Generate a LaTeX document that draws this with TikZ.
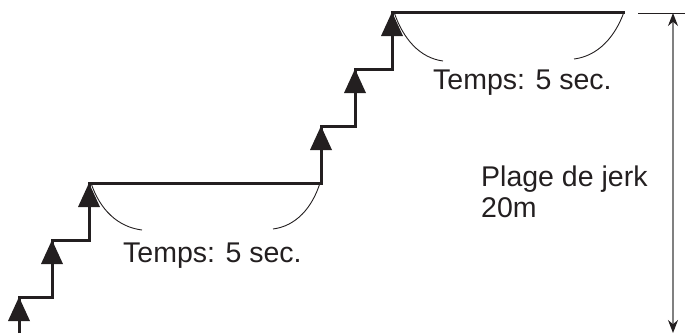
\documentclass[tikz,border=0pt]{standalone}
\usepackage{fontspec}
\setmainfont{Liberation Sans}
\usetikzlibrary{arrows.meta}
\definecolor{ink}{RGB}{35,31,32}
\definecolor{dimgray}{RGB}{128,128,128}
\tikzset{
  stair/.style={draw=ink, line width=3bp, line join=miter},
  tri/.style={fill=ink, draw=none},
  brace/.style={draw=ink, line width=0.9bp},
  lbl/.style={font=\fontsize{28.5bp}{31bp}\selectfont, text=ink, inner sep=0pt, anchor=base west},
  dimline/.style={draw=dimgray, line width=1.4bp, {Stealth[length=13bp,width=10bp,color=ink]}-{Stealth[length=13bp,width=10bp,color=ink]}},
  tick/.style={draw=ink, line width=0.8bp}
}
\begin{document}
\begin{tikzpicture}[x=1bp,y=-1bp]
\useasboundingbox (0,0) rectangle (685,333);
% staircase corners
\coordinate (s0) at (19,333);
\coordinate (c1) at (19,297);
\coordinate (c1r) at (52,297);
\coordinate (c2) at (52,240);
\coordinate (c2r) at (89,240);
\coordinate (c3) at (89,183);
\coordinate (c3r) at (321,183);
\coordinate (c4) at (321,126);
\coordinate (c4r) at (355,126);
\coordinate (c5) at (355,69);
\coordinate (c5r) at (392,69);
\coordinate (c6) at (392,12);
\coordinate (c6r) at (625,12);
\draw[stair] (s0) -- (c1) -- (c1r) -- (c2) -- (c2r) -- (c3) -- (c3r) -- (c4) -- (c4r) -- (c5) -- (c5r) -- (c6) -- (c6r);
% arrowheads
\foreach \c in {c1,c2,c3,c4,c5,c6}{
  \fill[tri] (\c) -- ++(-11,24) -- ++(22,0) -- cycle;
}
% lower braces
\draw[brace] (91,183) .. controls (100,210) and (118,227) .. (142,230);
\draw[brace] (320,183) .. controls (312,208) and (296,226) .. (273,229);
% upper braces
\draw[brace] (394,12) .. controls (403,39) and (420,58) .. (443,61);
\draw[brace] (624,12) .. controls (615,37) and (598,56) .. (574,59);
% labels
\node[lbl] (t1) at (123,262) {Temps: 5 sec.};
\node[lbl] (t2) at (433,89) {Temps: 5 sec.};
\node[lbl] (p1) at (481,186) {Plage de jerk};
\node[lbl] (p2) at (481,217) {20m};
% dimension
\coordinate (k0) at (638,13);
\coordinate (k1) at (685,13);
\draw[tick] (k0) -- (k1);
\coordinate (d0) at (673,13);
\coordinate (d1) at (673,333);
\draw[dimline] (d0) -- (d1);
\end{tikzpicture}
\end{document}
